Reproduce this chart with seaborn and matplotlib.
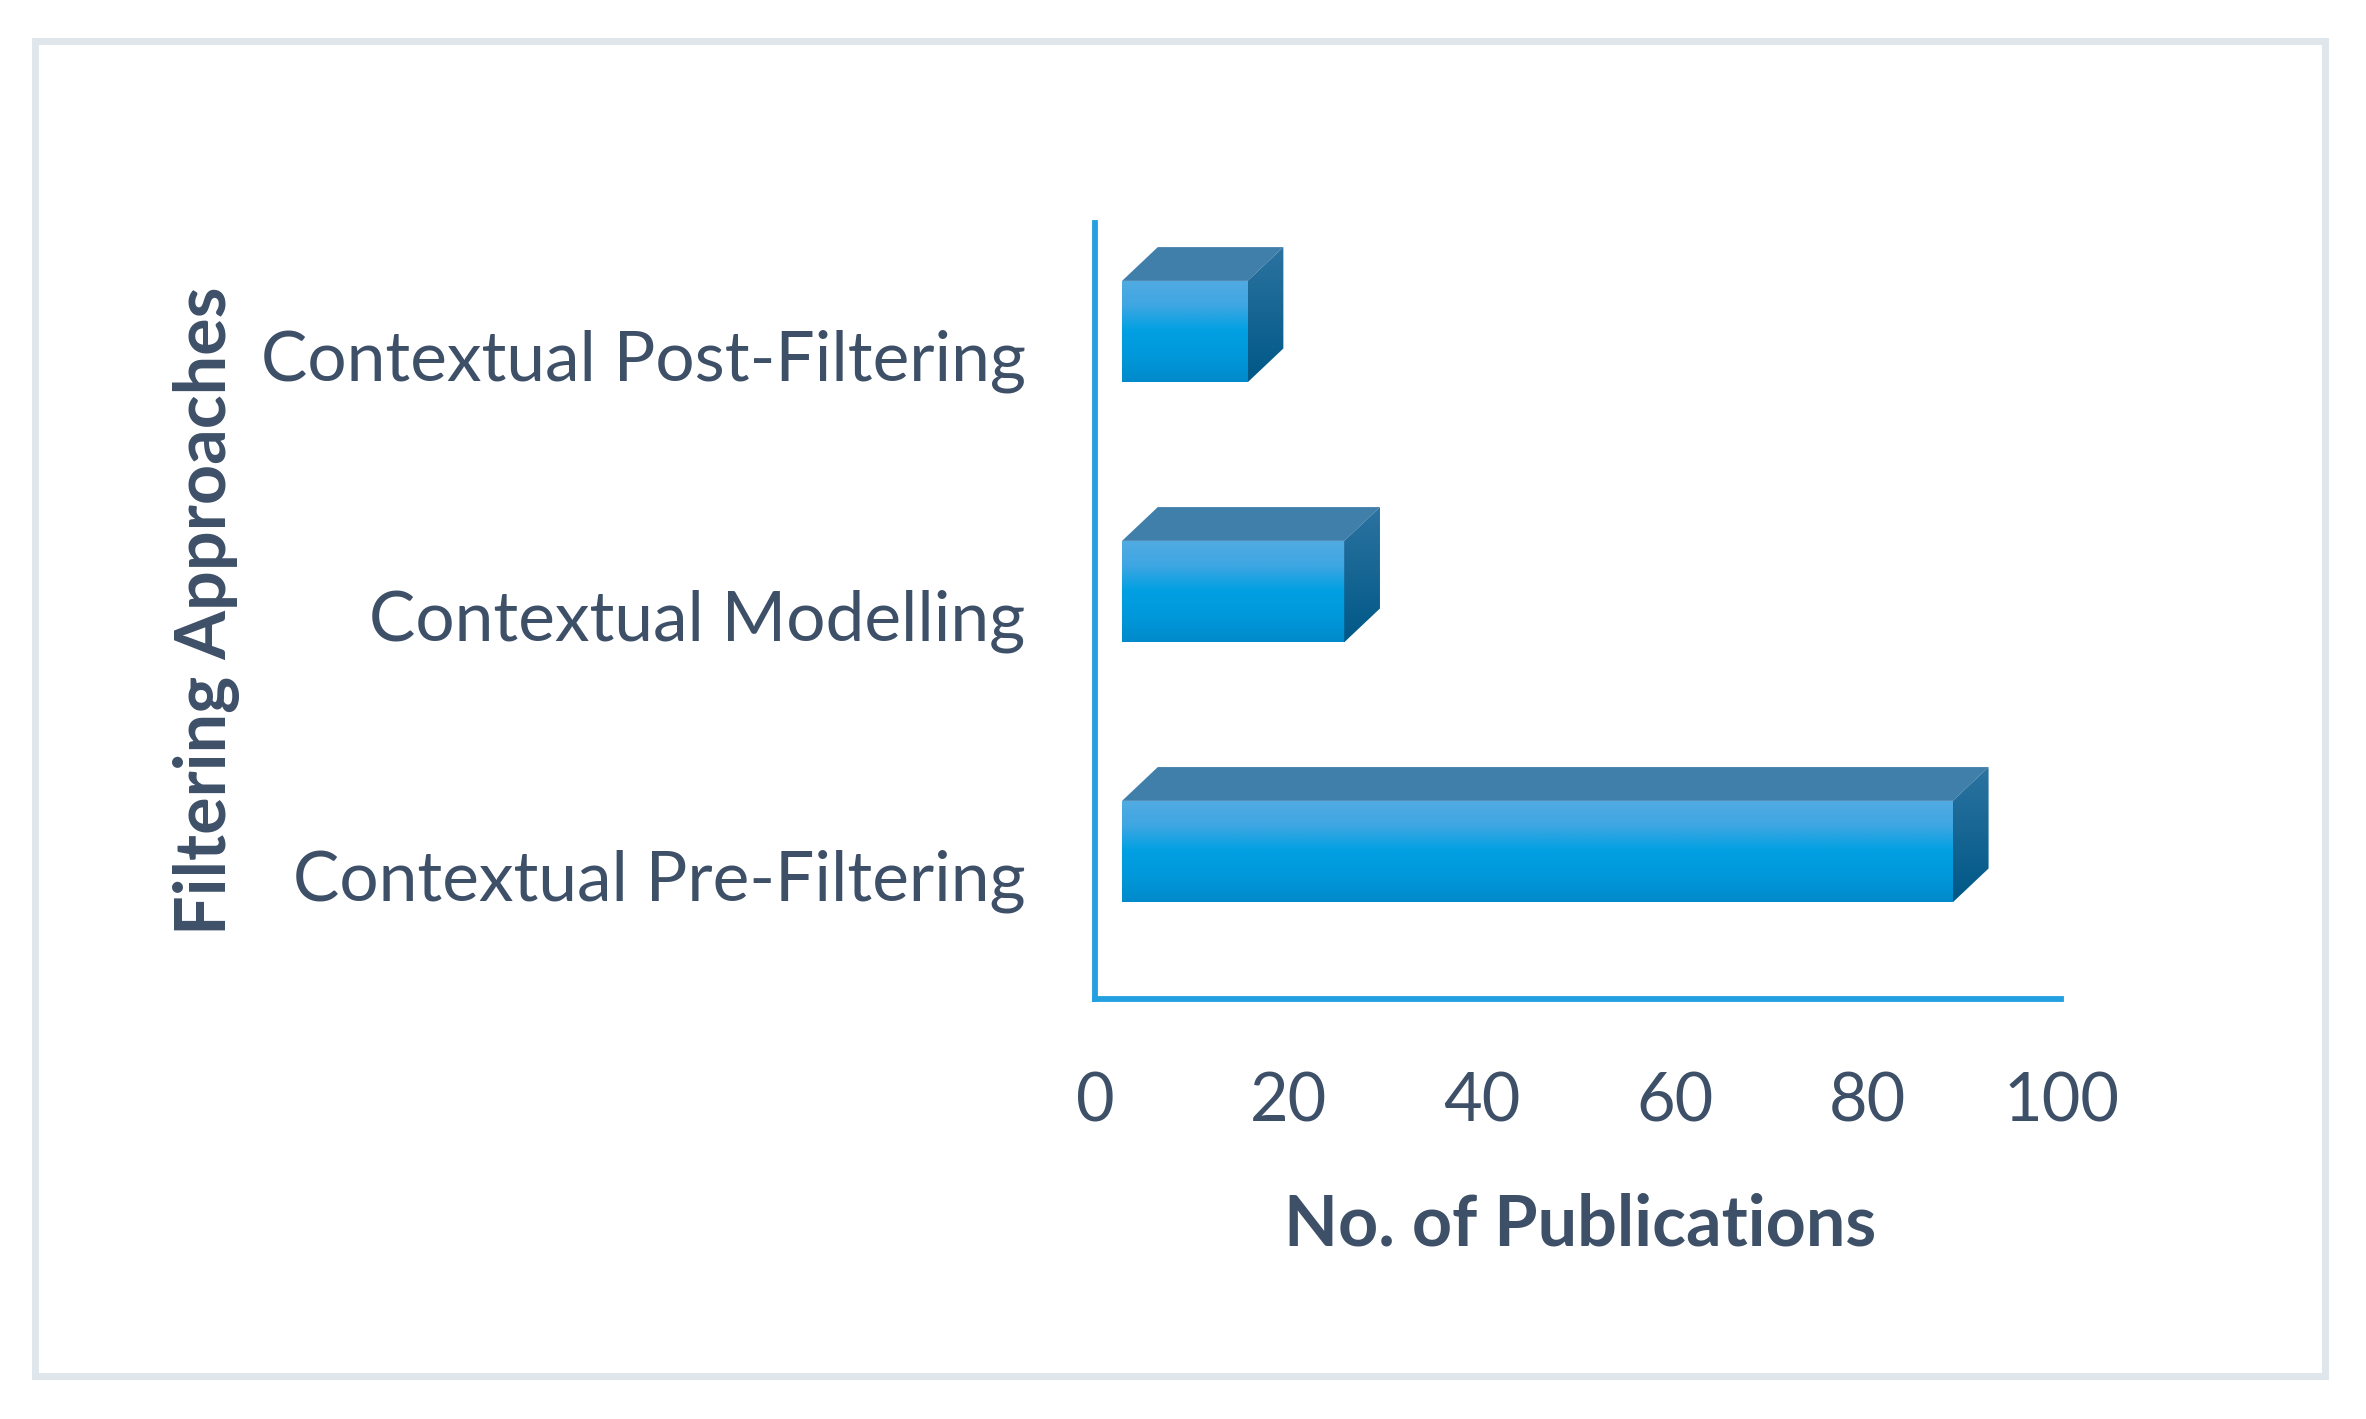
import numpy as np
import pandas as pd
import matplotlib
matplotlib.use("Agg")
import matplotlib.pyplot as plt
import seaborn as sns
from matplotlib.patches import Polygon, Rectangle
from matplotlib.colors import LinearSegmentedColormap

categories = ["Contextual Post-Filtering", "Contextual Modelling", "Contextual Pre-Filtering"]
publications = [13, 23, 86]
x_ticks = [0, 20, 40, 60, 80, 100]

TEXT = "#3d5068"
AXIS = "#22a0e0"

sns.set_theme(style="white")
plt.rcParams["font.family"] = ["Lato", "DejaVu Sans"]

fig = plt.figure(figsize=(23.66, 14.19), dpi=100)
ax = fig.add_axes([0.4628, 0.296, 0.4083, 0.5469])

df = pd.DataFrame({"approach": categories, "count": publications})
sns.barplot(data=df, x="count", y="approach", orient="h", ax=ax,
            color="#009fe2", width=0.39, saturation=1)

# 3D-like projection style
shift_x, shift_y = 2.8, -0.09      # front face offset
dx, dy = 3.7, 0.13                 # depth offset

front_cmap = LinearSegmentedColormap.from_list(
    "front", ["#52abe3", "#3ea6e2", "#00a0e2", "#0098da", "#008acb"])
side_cmap = LinearSegmentedColormap.from_list("side", ["#2c73a0", "#005887"])
grad = np.linspace(0, 1, 256).reshape(-1, 1)

for p in list(ax.patches):
    p.set_x(p.get_x() + shift_x)
    p.set_y(p.get_y() + shift_y)
    x0, y0 = p.get_x(), p.get_y()
    w, h = p.get_width(), p.get_height()
    x1, y1 = x0 + w, y0 + h
    p.set_edgecolor("none")
    im = ax.imshow(grad, cmap=front_cmap, extent=(x0, x1, y1, y0),
                   origin="upper", aspect="auto", zorder=3)
    im.set_clip_path(p)
    top = Polygon([(x0, y0), (x0 + dx, y0 - dy), (x1 + dx, y0 - dy), (x1, y0)],
                  closed=True, facecolor="#417fab", edgecolor="none", zorder=3)
    ax.add_patch(top)
    side = Polygon([(x1, y0), (x1 + dx, y0 - dy), (x1 + dx, y1 - dy), (x1, y1)],
                   closed=True, facecolor="none", edgecolor="none", zorder=3)
    ax.add_patch(side)
    im2 = ax.imshow(grad, cmap=side_cmap, extent=(x1, x1 + dx, y1, y0 - dy),
                    origin="upper", aspect="auto", zorder=3)
    im2.set_clip_path(side)

ax.set_xlim(0, 100)
ax.set_ylim(2.477, -0.508)
ax.set_xticks(x_ticks)
ax.set_xticklabels([str(t) for t in x_ticks])

for s in ["top", "right"]:
    ax.spines[s].set_visible(False)
for s in ["left", "bottom"]:
    ax.spines[s].set_color(AXIS)
    ax.spines[s].set_linewidth(4.2)
ax.tick_params(axis="both", length=0, labelcolor=TEXT)
ax.tick_params(axis="x", pad=52, labelsize=48)
ax.tick_params(axis="y", pad=50, labelsize=50)

ax.set_xlabel("No. of Publications", fontsize=50.5, fontweight="bold", color=TEXT)
ax.xaxis.label.set_va("baseline")
ax.xaxis.set_label_coords(0.502, -0.318)
ax.set_ylabel("Filtering Approaches", fontsize=50.5, fontweight="bold", color=TEXT)
ax.yaxis.label.set_va("baseline")
ax.yaxis.set_label_coords(-0.8996, 0.5)

# outer frame
fig.patches.append(Rectangle((35 / 2366, 1 - 1376 / 1419), (2325 - 35) / 2366,
                             (1376 - 41) / 1419, transform=fig.transFigure,
                             fill=False, edgecolor="#dfe6ec", linewidth=5))

fig.savefig("out.png", dpi=100)
